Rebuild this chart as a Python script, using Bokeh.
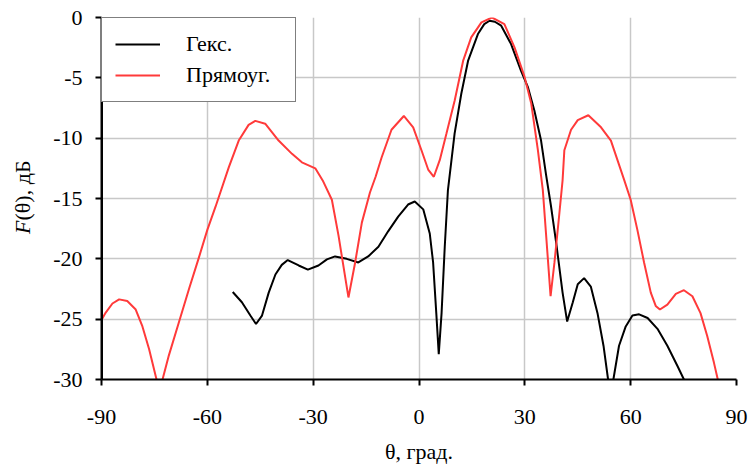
from bokeh.plotting import figure
from bokeh.models import Range1d, Legend, LegendItem, Label, FixedTicker, Span
from bokeh.embed import file_html
from bokeh.resources import INLINE

# Гекс. (hexagonal) pattern, degrees / dB
hex_theta = [-52.8, -50.2, -47.8, -46.2, -44.5, -42.6, -40.7, -38.9, -37.2, -34.1,
             -31.5, -28.5, -26.1, -23.8, -20.5, -17.2, -14.4, -11.5, -8.7, -5.9,
             -3.1, -1.2, 1.2, 3.05, 4.0, 4.9, 5.6, 6.4, 7.3, 8.2,
             10.1, 12.0, 13.9, 16.7, 18.5, 20.0, 21.5, 23.3, 26.1, 28.9,
             30.9, 32.7, 34.6, 36.0, 37.4, 38.9, 40.7, 42.0, 43.6, 45.0,
             46.8, 48.7, 50.6, 52.3, 53.6, 54.3, 55.1, 56.7, 58.6, 60.5,
             62.4, 64.8, 67.6, 70.4, 73.3, 75.1]
hex_db = [-22.75, -23.6, -24.7, -25.4, -24.7, -22.8, -21.3, -20.5, -20.1, -20.55,
          -20.9, -20.55, -20.05, -19.8, -20.0, -20.3, -19.8, -19.0, -17.7, -16.5,
          -15.5, -15.25, -15.9, -17.9, -20.3, -24.5, -27.9, -24.5, -19.0, -14.3,
          -9.6, -6.3, -3.6, -1.37, -0.55, -0.27, -0.35, -0.68, -2.2, -4.4,
          -5.8, -7.7, -10.2, -13.0, -15.6, -18.7, -22.8, -25.2, -23.6, -22.1,
          -21.6, -22.3, -24.5, -27.2, -30.0, -33.0, -30.0, -27.2, -25.6, -24.7,
          -24.6, -24.9, -25.8, -27.2, -28.9, -30.0]

# Прямоуг. (rectangular) pattern, degrees / dB
rect_theta = [-90.0, -88.8, -86.9, -85.0, -82.7, -80.3, -78.4, -76.5, -74.4, -73.5,
              -72.7, -70.9, -68.1, -65.2, -62.4, -60.0, -57.7, -53.9, -51.1, -48.3,
              -46.4, -43.6, -39.8, -36.0, -33.2, -29.4, -27.3, -24.7, -22.8, -20.0,
              -18.1, -16.2, -13.9, -12.3, -10.6, -7.8, -4.3, -1.65, 0.7, 2.6,
              4.2, 5.9, 7.8, 10.1, 12.5, 14.8, 17.7, 20.7, 24.2, 27.1,
              29.9, 31.8, 33.7, 35.1, 36.0, 37.3, 38.4, 39.8, 40.7, 41.2,
              43.1, 45.0, 48.0, 51.6, 54.4, 58.2, 60.0, 61.9, 63.8, 65.7,
              67.1, 68.3, 70.4, 72.8, 75.1, 77.5, 79.8, 81.7, 83.6, 84.7]
rect_db = [-25.06, -24.45, -23.7, -23.36, -23.5, -24.2, -25.6, -27.5, -30.0, -33.0,
           -30.0, -28.0, -25.3, -22.5, -19.9, -17.6, -15.7, -12.4, -10.2, -8.9,
           -8.57, -8.8, -10.2, -11.3, -12.0, -12.5, -13.5, -15.1, -18.1, -23.2,
           -20.3, -17.0, -14.5, -13.2, -11.6, -9.3, -8.16, -9.1, -11.0, -12.6,
           -13.2, -11.8, -9.6, -6.9, -3.6, -1.65, -0.4, 0.0, -0.55, -2.5,
           -4.9, -7.1, -11.0, -14.3, -17.9, -23.1, -20.3, -16.2, -13.5, -11.0,
           -9.3, -8.5, -8.1, -9.1, -10.2, -13.5, -15.1, -17.6, -20.3, -22.8,
           -23.9, -24.2, -23.8, -22.9, -22.6, -23.1, -24.5, -26.4, -28.6, -30.0]

x_ticks = [-90, -60, -30, 0, 30, 60, 90]
y_ticks = [-30, -25, -20, -15, -10, -5, 0]
series_names = ["Гекс.", "Прямоуг."]
x_title = "θ, град."
y_title_italic = "F"
y_title_rest = "(θ), дБ"

FONT = "Liberation Serif"
TICK_FONT = "Times New Roman"
FS = "22px"
RED = "#ff3a3a"
GRID = "#c8c8c8"

p = figure(width=751, height=466, output_backend="svg", toolbar_location=None,
           x_range=Range1d(-90, 90), y_range=Range1d(-30, 0),
           min_border_left=99, min_border_right=15, min_border_top=17, min_border_bottom=85)
p.background_fill_color = "white"
p.background_fill_alpha = 0
p.border_fill_color = "white"
p.border_fill_alpha = 0
p.outline_line_color = None

for ax in (p.xaxis[0], p.yaxis[0]):
    ax.axis_line_color = "black"
    ax.axis_line_width = 2
    ax.major_tick_line_color = "black"
    ax.major_tick_line_width = 2
    ax.major_tick_out = 6
    ax.major_tick_in = 0
    ax.minor_tick_line_color = None
    ax.major_label_text_font = TICK_FONT
    ax.major_label_text_font_size = FS
    ax.major_label_text_color = "black"
    ax.axis_label_text_font = FONT
    ax.axis_label_text_font_size = FS
    ax.axis_label_text_font_style = "normal"
    ax.axis_label_text_color = "black"

p.xaxis[0].ticker = FixedTicker(ticks=x_ticks)
p.yaxis[0].ticker = FixedTicker(ticks=y_ticks)
p.xaxis[0].major_label_overrides = {t: str(t) for t in x_ticks}
p.yaxis[0].major_label_overrides = {t: str(t) for t in y_ticks}
p.xaxis[0].major_label_standoff = 24
p.yaxis[0].major_label_standoff = 13
p.xaxis[0].axis_label = x_title
p.xaxis[0].axis_label_standoff = 12

p.xgrid[0].ticker = FixedTicker(ticks=x_ticks[1:])
p.ygrid[0].ticker = FixedTicker(ticks=y_ticks[1:])
for g in (p.xgrid[0], p.ygrid[0]):
    g.grid_line_color = GRID
    g.grid_line_width = 1.5

r_hex = p.line(hex_theta, hex_db, line_color="black", line_width=2)
r_rect = p.line(rect_theta, rect_db, line_color=RED, line_width=2)

# explicit left axis line (frame edge)
p.add_layout(Span(location=x_ticks[0], dimension="height", line_color="black", line_width=3))

legend = Legend(items=[LegendItem(label=series_names[0], renderers=[r_hex]),
                       LegendItem(label=series_names[1], renderers=[r_rect])],
                location="top_left")
legend.margin = 0
legend.padding = 13
legend.spacing = 5
legend.glyph_width = 45
legend.glyph_height = 24
legend.label_standoff = 26
legend.label_width = 96
legend.label_text_font = FONT
legend.label_text_font_size = FS
legend.label_text_color = "black"
legend.border_line_color = "black"
legend.border_line_width = 1.5
legend.background_fill_color = "white"
legend.background_fill_alpha = 1.0
p.add_layout(legend)

# y-axis title: italic F + rest, each in its own left-side panel
yj = 381 - 222
p.add_layout(Label(x=-3, y=yj, x_units="screen", y_units="screen", text=y_title_italic,
                   angle=90, angle_units="deg", text_align="right", text_baseline="middle",
                   text_font=FONT, text_font_size=FS, text_font_style="italic",
                   text_color="black"), "left")
p.add_layout(Label(x=22, y=yj, x_units="screen", y_units="screen", text=y_title_rest,
                   angle=90, angle_units="deg", text_align="left", text_baseline="middle",
                   text_font=FONT, text_font_size=FS, text_color="black"), "left")

open("out.html", "w").write(file_html(p, INLINE))
